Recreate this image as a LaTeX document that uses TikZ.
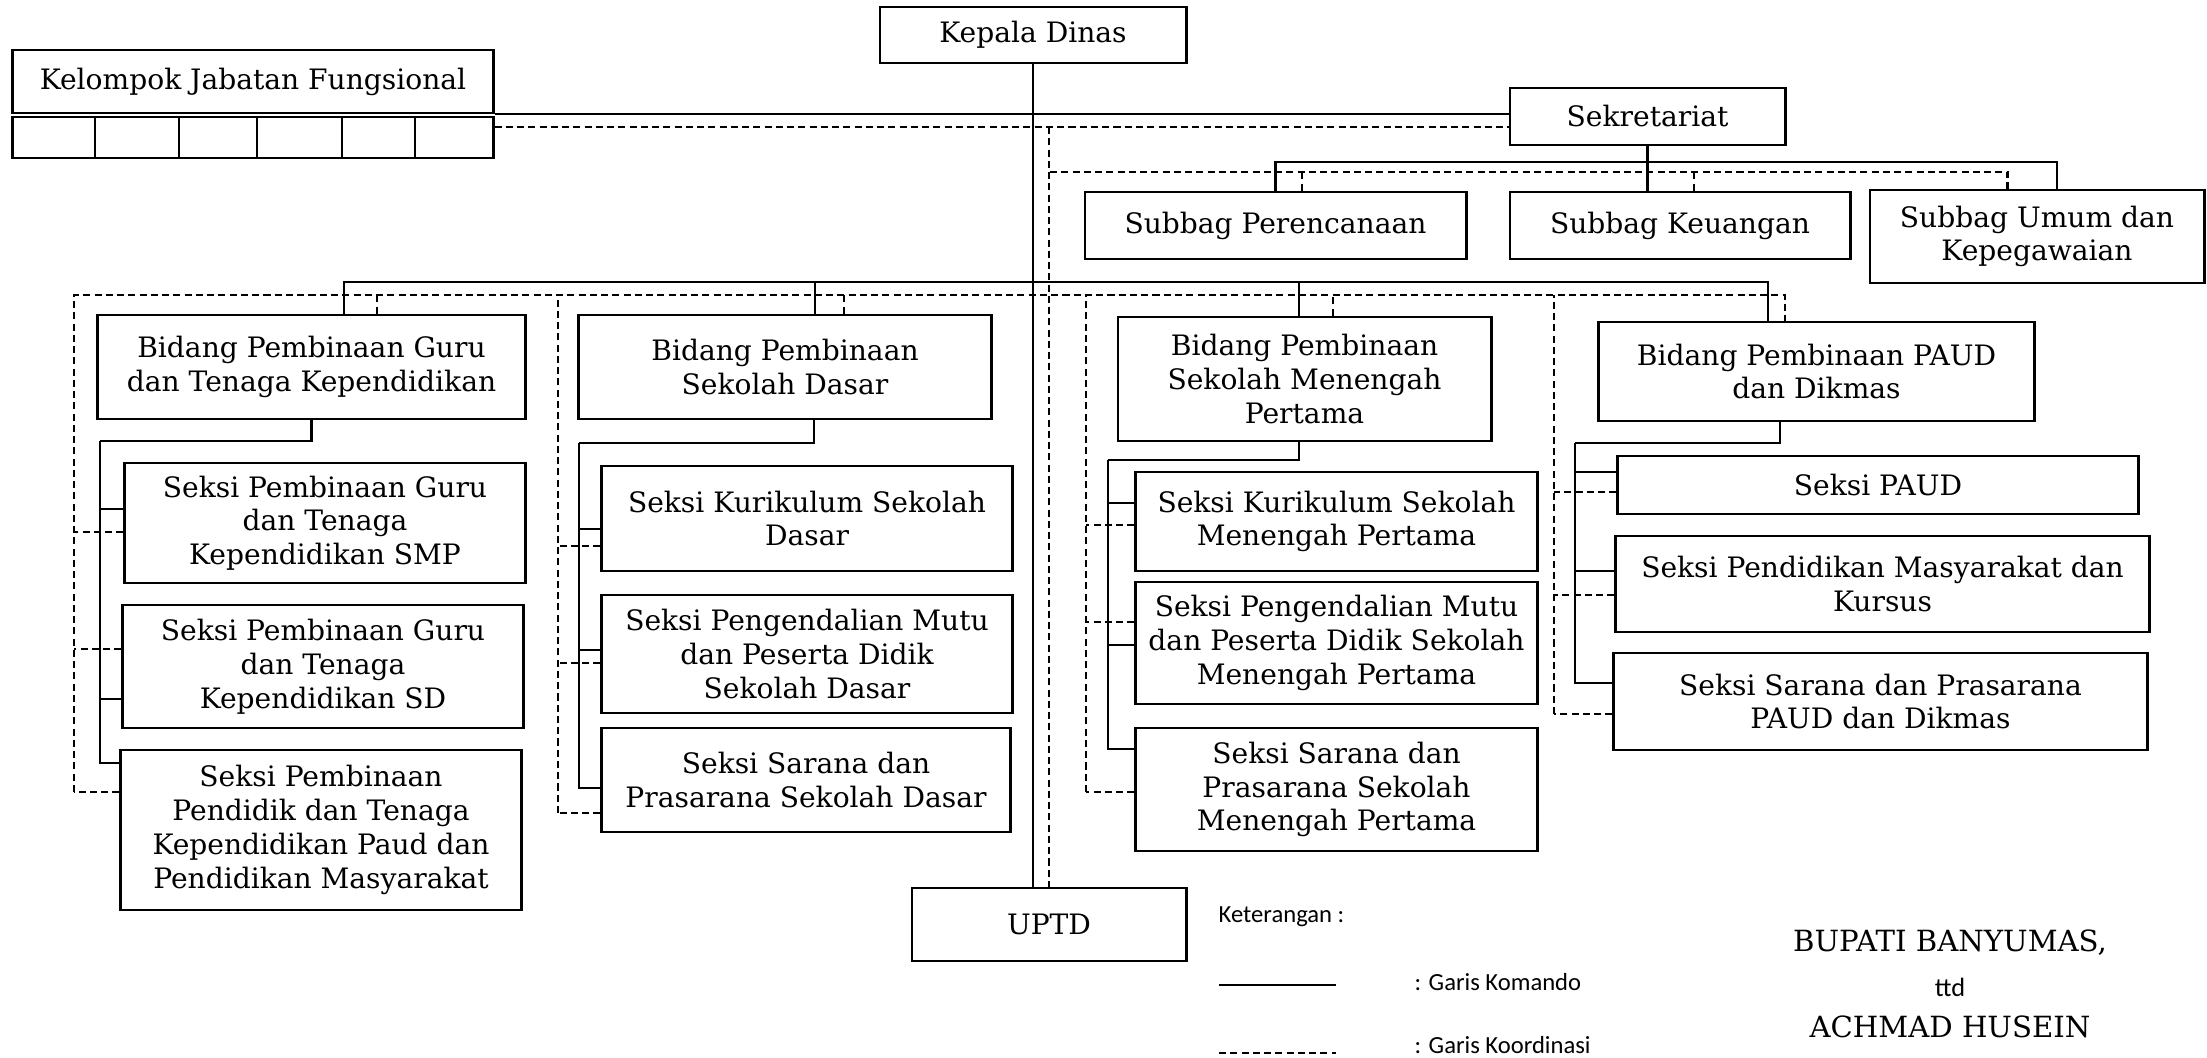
\documentclass[tikz,border=0pt]{standalone}
\usepackage{fontspec}
\setmainfont{DejaVu Serif}
\newfontfamily\calibri{Carlito}
\tikzset{
	orgbox/.style   = {draw, line width=0.8pt, rectangle, align=center, inner sep=1pt,
		font=\fontsize{8}{9.6}\selectfont},
	komando/.style  = {line width=0.6pt},
	koord/.style    = {line width=0.6pt, dash pattern=on 2pt off 1.2pt},
	legtext/.style  = {anchor=west, inner sep=0pt, font=\calibri\fontsize{7}{8.4}\selectfont},
	sign/.style     = {inner sep=0pt, font=\fontsize{8.3}{10}\selectfont}
}

\begin{document}
\begin{tikzpicture}[x=0.01cm, y=-0.01cm]
	\useasboundingbox (0,0) rectangle (2207,1057);

	% pimpinan dan sekretariat
	\node[orgbox, minimum width=3.06cm, minimum height=0.56cm] (kd) at (1033,35) {Kepala Dinas};
	\node[orgbox, minimum width=4.80cm, minimum height=0.63cm] (kjf) at (253,81.5) {Kelompok Jabatan Fungsional};
	\node[orgbox, minimum width=4.80cm, minimum height=0.41cm] (kjfrow) at (253,137.5) {};
	\foreach \cx in {95,179,257,342,415}
		\draw[komando] (\cx,0 |- kjfrow.north) -- (\cx,0 |- kjfrow.south);
	\node[orgbox, minimum width=2.75cm, minimum height=0.57cm] (sekr) at (1647.5,116.5) {Sekretariat};
	\node[orgbox, minimum width=3.81cm, minimum height=0.67cm] (sp) at (1275.5,225.5) {Subbag Perencanaan};
	\node[orgbox, minimum width=3.40cm, minimum height=0.67cm] (sk) at (1680,225.5) {Subbag Keuangan};
	\node[orgbox, minimum width=3.34cm, minimum height=0.93cm] (su) at (2037,236.5) {Subbag Umum dan\\Kepegawaian};

	% bidang
	\node[orgbox, minimum width=4.27cm, minimum height=1.04cm] (b1) at (311.5,367) {Bidang Pembinaan Guru\\dan Tenaga Kependidikan};
	\node[orgbox, minimum width=4.12cm, minimum height=1.04cm] (b2) at (785,367) {Bidang Pembinaan\\Sekolah Dasar};
	\node[orgbox, minimum width=3.73cm, minimum height=1.24cm] (b3) at (1304.5,379) {Bidang Pembinaan\\Sekolah Menengah\\Pertama};
	\node[orgbox, minimum width=4.35cm, minimum height=0.99cm] (b4) at (1816.5,371.5) {Bidang Pembinaan PAUD\\dan Dikmas};

	% seksi
	\node[orgbox, minimum width=4.00cm, minimum height=1.20cm] (s11) at (325,523) {Seksi Pembinaan Guru\\dan Tenaga\\Kependidikan SMP};
	\node[orgbox, minimum width=4.00cm, minimum height=1.23cm] (s12) at (323,666.5) {Seksi Pembinaan Guru\\dan Tenaga\\Kependidikan SD};
	\node[orgbox, minimum width=4.00cm, minimum height=1.60cm] (s13) at (321,830) {Seksi Pembinaan\\Pendidik dan Tenaga\\Kependidikan Paud dan\\Pendidikan Masyarakat};
	\node[orgbox, minimum width=4.10cm, minimum height=1.05cm] (s21) at (807,518.5) {Seksi Kurikulum Sekolah\\Dasar};
	\node[orgbox, minimum width=4.10cm, minimum height=1.18cm] (s22) at (807,654) {Seksi Pengendalian Mutu\\dan Peserta Didik\\Sekolah Dasar};
	\node[orgbox, minimum width=4.08cm, minimum height=1.04cm] (s23) at (806,780) {Seksi Sarana dan\\Prasarana Sekolah Dasar};
	\node[orgbox, minimum width=4.01cm, minimum height=0.99cm] (s31) at (1336.5,521.5) {Seksi Kurikulum Sekolah\\Menengah Pertama};
	\node[orgbox, minimum width=4.01cm, minimum height=1.22cm] (s32) at (1336.5,643) {Seksi Pengendalian Mutu\\dan Peserta Didik Sekolah\\Menengah Pertama};
	\node[orgbox, minimum width=4.01cm, minimum height=1.23cm] (s33) at (1336.5,789.5) {Seksi Sarana dan\\Prasarana Sekolah\\Menengah Pertama};
	\node[orgbox, minimum width=5.20cm, minimum height=0.58cm] (s41) at (1878,485) {Seksi PAUD};
	\node[orgbox, minimum width=5.33cm, minimum height=0.96cm] (s42) at (1882.5,584) {Seksi Pendidikan Masyarakat dan\\Kursus};
	\node[orgbox, minimum width=5.33cm, minimum height=0.97cm] (s43) at (1880.5,701.5) {Seksi Sarana dan Prasarana\\PAUD dan Dikmas};

	\node[orgbox, minimum width=2.74cm, minimum height=0.73cm] (uptd) at (1049,924.5) {UPTD};

	% garis komando
	\draw[komando] (kd.south) -- (kd.south |- uptd.north);
	\draw[komando] (kjf.south east) -- (kjf.south east -| sekr.west);
	\draw[komando] (sekr.south) -- (sekr.south |- sk.north);
	\coordinate (subbar) at (1660,162);
	\draw[komando] (sp.north) |- (subbar) -| ([xshift=0.2cm]su.north);

	\coordinate (bidbar) at (1032,282);
	\coordinate (b1k) at ([xshift=0.325cm]b1.north);
	\coordinate (b2k) at ([xshift=0.30cm]b2.north);
	\coordinate (b3k) at ([xshift=-0.055cm]b3.north);
	\coordinate (b4k) at ([xshift=-0.485cm]b4.north);
	\draw[komando] (b1k) |- (bidbar) -| (b4k);
	\draw[komando] (b2k) -- (b2k |- bidbar);
	\draw[komando] (b3k) -- (b3k |- bidbar);

	\coordinate (kt1) at (100,441);
	\coordinate (kt2) at (579,443);
	\coordinate (kt3) at (1108,460);
	\coordinate (kt4) at (1575,443);
	\draw[komando] (b1.south) |- (kt1);
	\draw[komando] ([xshift=0.29cm]b2.south) |- (kt2);
	\draw[komando] ([xshift=-0.055cm]b3.south) |- (kt3);
	\draw[komando] ([xshift=-0.365cm]b4.south) |- (kt4);

	% garis koordinasi
	\coordinate (kjfd) at ([yshift=0.105cm]kjfrow.east);
	\draw[koord] (kjfd) -- (kjfd -| sekr.west);
	\draw[koord] (kjfd -| uptd.north) -- (uptd.north);
	\coordinate (subd) at (1050,172);
	\coordinate (spd) at ([xshift=0.265cm]sp.north);
	\coordinate (skd) at ([xshift=0.14cm]sk.north);
	\draw[koord] (subd) -| ([xshift=-0.295cm]su.north);
	\draw[koord] (spd) -- (spd |- subd);
	\draw[koord] (skd) -- (skd |- subd);

	\coordinate (dt1) at (74,295);
	\coordinate (dt2) at (558,295);
	\coordinate (dt3) at (1086,295);
	\coordinate (dt4) at (1554,295);
	\coordinate (b1d) at ([xshift=0.655cm]b1.north);
	\coordinate (b2d) at ([xshift=0.59cm]b2.north);
	\coordinate (b3d) at ([xshift=0.285cm]b3.north);
	\coordinate (b4d) at ([xshift=-0.315cm]b4.north);
	\draw[koord] (b1d) -- (b1d |- dt1);
	\draw[koord] (b2d) -- (b2d |- dt1);
	\draw[koord] (b3d) -- (b3d |- dt1);

	% cabang ke seksi: node / trunk komando / trunk koordinasi / geser komando / geser koordinasi
	\foreach \sx/\kt/\dt/\ks/\kd in {s11/kt1/dt1/0.14/-0.09, s12/kt1/dt1/-0.325/0.175, s13/kt1/dt1/0.67/0.38,
		s21/kt2/dt2/-0.105/-0.275, s22/kt2/dt2/0.04/-0.09, s23/kt2/dt2/-0.08/-0.33,
		s31/kt3/dt3/0.185/-0.035, s32/kt3/dt3/-0.02/0.21, s33/kt3/dt3/0.405/-0.025,
		s41/kt4/dt4/0.13/-0.07, s42/kt4/dt4/0.13/-0.11, s43/kt4/dt4/0.185/-0.125}{
		\coordinate (k\sx) at ([yshift=\ks cm]\sx.west);
		\coordinate (d\sx) at ([yshift=\kd cm]\sx.west);
		\draw[komando] (k\sx) -| (\kt);
		\draw[koord] (d\sx) -- (d\sx -| \dt);
	}
	\draw[koord] (ds13 -| dt1) -- (dt1) -| (b4d);
	\draw[koord] (ds23 -| dt2) -- (dt2);
	\draw[koord] (ds33 -| dt3) -- (dt3);
	\draw[koord] (ds43 -| dt4) -- (dt4);

	% keterangan
	\node[legtext] (ket) at (1218,917) {Keterangan :};
	\draw[komando] (1219,985) -- ++(117,0);
	\node[legtext] (gkom) at (1414,982) {: Garis Komando};
	\draw[koord] (1219,1053) -- ++(117,0);
	\node[legtext] (gkor) at (1414,1045) {: Garis Koordinasi};

	\node[sign] (bup) at (1950,943) {BUPATI BANYUMAS,};
	\node[legtext, anchor=center, font=\calibri\fontsize{7.5}{9}\selectfont] (ttd) at (1950,987) {ttd};
	\node[sign] (nama) at (1950,1027) {ACHMAD HUSEIN};
\end{tikzpicture}
\end{document}
